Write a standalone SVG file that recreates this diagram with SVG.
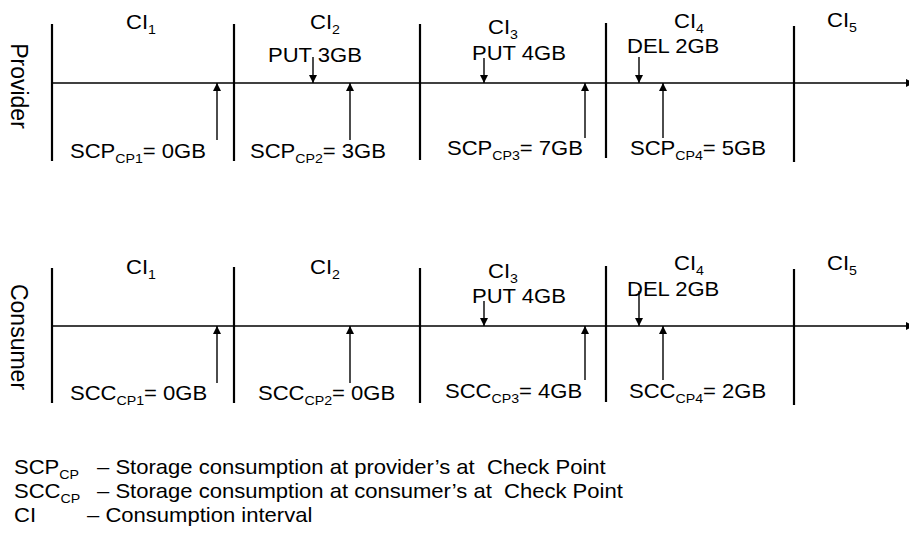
<svg xmlns="http://www.w3.org/2000/svg" width="909" height="536" viewBox="0 0 909 536">
<style>
  text { font-family: "Liberation Sans", Arial, sans-serif; font-size: 21px; fill: #000; }
  .sub { font-size: 13.5px; }
  .axis { stroke: #000; stroke-width: 1.6; fill: none; }
  .sep { stroke: #000; stroke-width: 2.2; fill: none; }
  .arr { stroke: #000; stroke-width: 1.4; fill: none; marker-end: url(#head); }
</style>
<defs>
  <marker id="head" viewBox="0 0 10 10" refX="10" refY="5" markerWidth="8" markerHeight="8" markerUnits="userSpaceOnUse" orient="auto">
    <path d="M0,0 L10,5 L0,10 z" fill="#000"/>
  </marker>
</defs>
<rect width="909" height="536" fill="#fff"/>

<g id="provider">
  <text transform="translate(11,86) rotate(90)" text-anchor="middle" style="font-size:23px">Provider</text>
  <line class="axis" x1="52" y1="83" x2="909" y2="83"/>
  <path d="M906,79 L914,83 L906,87 z" fill="#000"/>
  <line class="sep" x1="52" y1="24" x2="52" y2="161"/>
  <line class="sep" x1="234" y1="24" x2="234" y2="161"/>
  <line class="sep" x1="420" y1="24" x2="420" y2="160"/>
  <line class="sep" x1="606" y1="23" x2="606" y2="158"/>
  <line class="sep" x1="794" y1="26" x2="794" y2="162"/>
  <text transform="translate(126,29) scale(1.05,1)">CI<tspan class="sub" dy="5">1</tspan></text>
  <text transform="translate(310,29) scale(1.05,1)">CI<tspan class="sub" dy="5">2</tspan></text>
  <text transform="translate(488,34) scale(1.05,1)">CI<tspan class="sub" dy="5">3</tspan></text>
  <text transform="translate(674,28) scale(1.05,1)">CI<tspan class="sub" dy="5">4</tspan></text>
  <text transform="translate(827,27) scale(1.05,1)">CI<tspan class="sub" dy="5">5</tspan></text>
  <text transform="translate(268,62) scale(1.05,1)">PUT 3GB</text>
  <text transform="translate(472,60) scale(1.05,1)">PUT 4GB</text>
  <text transform="translate(627,53) scale(1.05,1)">DEL 2GB</text>
  <text transform="translate(70,158) scale(1.05,1)">SCP<tspan class="sub" dy="5">CP1</tspan><tspan dy="-5">= 0GB</tspan></text>
  <text transform="translate(250,158) scale(1.05,1)">SCP<tspan class="sub" dy="5">CP2</tspan><tspan dy="-5">= 3GB</tspan></text>
  <text transform="translate(447,155) scale(1.05,1)">SCP<tspan class="sub" dy="5">CP3</tspan><tspan dy="-5">= 7GB</tspan></text>
  <text transform="translate(630,155) scale(1.05,1)">SCP<tspan class="sub" dy="5">CP4</tspan><tspan dy="-5">= 5GB</tspan></text>
</g>

<g id="consumer">
  <text transform="translate(11,337) rotate(90)" text-anchor="middle" style="font-size:23px">Consumer</text>
  <line class="axis" x1="52" y1="326" x2="909" y2="326"/>
  <path d="M906,322 L914,326 L906,330 z" fill="#000"/>
  <line class="sep" x1="52" y1="268" x2="52" y2="403"/>
  <line class="sep" x1="234" y1="267" x2="234" y2="403"/>
  <line class="sep" x1="420" y1="268" x2="420" y2="403"/>
  <line class="sep" x1="606" y1="266" x2="606" y2="402"/>
  <line class="sep" x1="794" y1="269" x2="794" y2="405"/>
  <text transform="translate(126,274) scale(1.05,1)">CI<tspan class="sub" dy="5">1</tspan></text>
  <text transform="translate(310,274) scale(1.05,1)">CI<tspan class="sub" dy="5">2</tspan></text>
  <text transform="translate(488,278) scale(1.05,1)">CI<tspan class="sub" dy="5">3</tspan></text>
  <text transform="translate(674,270) scale(1.05,1)">CI<tspan class="sub" dy="5">4</tspan></text>
  <text transform="translate(827,270) scale(1.05,1)">CI<tspan class="sub" dy="5">5</tspan></text>
  <text transform="translate(472,303) scale(1.05,1)">PUT 4GB</text>
  <text transform="translate(627,296) scale(1.05,1)">DEL 2GB</text>
  <text transform="translate(70,400) scale(1.05,1)">SCC<tspan class="sub" dy="5">CP1</tspan><tspan dy="-5">= 0GB</tspan></text>
  <text transform="translate(258,400) scale(1.05,1)">SCC<tspan class="sub" dy="5">CP2</tspan><tspan dy="-5">= 0GB</tspan></text>
  <text transform="translate(445,398) scale(1.05,1)">SCC<tspan class="sub" dy="5">CP3</tspan><tspan dy="-5">= 4GB</tspan></text>
  <text transform="translate(629,398) scale(1.05,1)">SCC<tspan class="sub" dy="5">CP4</tspan><tspan dy="-5">= 2GB</tspan></text>
</g>

<g id="connectors">
  <line class="arr" x1="313" y1="57" x2="313" y2="83"/>
  <line class="arr" x1="484" y1="58" x2="484" y2="83"/>
  <line class="arr" x1="639" y1="57" x2="639" y2="83"/>
  <line class="arr" x1="217" y1="140" x2="217" y2="83"/>
  <line class="arr" x1="350" y1="140" x2="350" y2="83"/>
  <line class="arr" x1="585" y1="138" x2="585" y2="83"/>
  <line class="arr" x1="663" y1="138" x2="663" y2="83"/>
  <line class="arr" x1="484" y1="301" x2="484" y2="326"/>
  <line class="arr" x1="639" y1="291" x2="639" y2="326"/>
  <line class="arr" x1="217" y1="383" x2="217" y2="326"/>
  <line class="arr" x1="350" y1="383" x2="350" y2="326"/>
  <line class="arr" x1="585" y1="380" x2="585" y2="326"/>
  <line class="arr" x1="663" y1="380" x2="663" y2="326"/>
</g>

<g id="legend">
  <text transform="translate(14,474) scale(1.05,1)">SCP<tspan class="sub" dy="5">CP</tspan></text>
  <text transform="translate(97,474) scale(1.05,1)" xml:space="preserve">– Storage consumption at provider’s at  Check Point</text>
  <text transform="translate(14,498) scale(1.05,1)">SCC<tspan class="sub" dy="5">CP</tspan></text>
  <text transform="translate(97,498) scale(1.05,1)" xml:space="preserve">– Storage consumption at consumer’s at  Check Point</text>
  <text transform="translate(14,522) scale(1.05,1)">CI</text>
  <text transform="translate(87,522) scale(1.05,1)">– Consumption interval</text>
</g>
</svg>
